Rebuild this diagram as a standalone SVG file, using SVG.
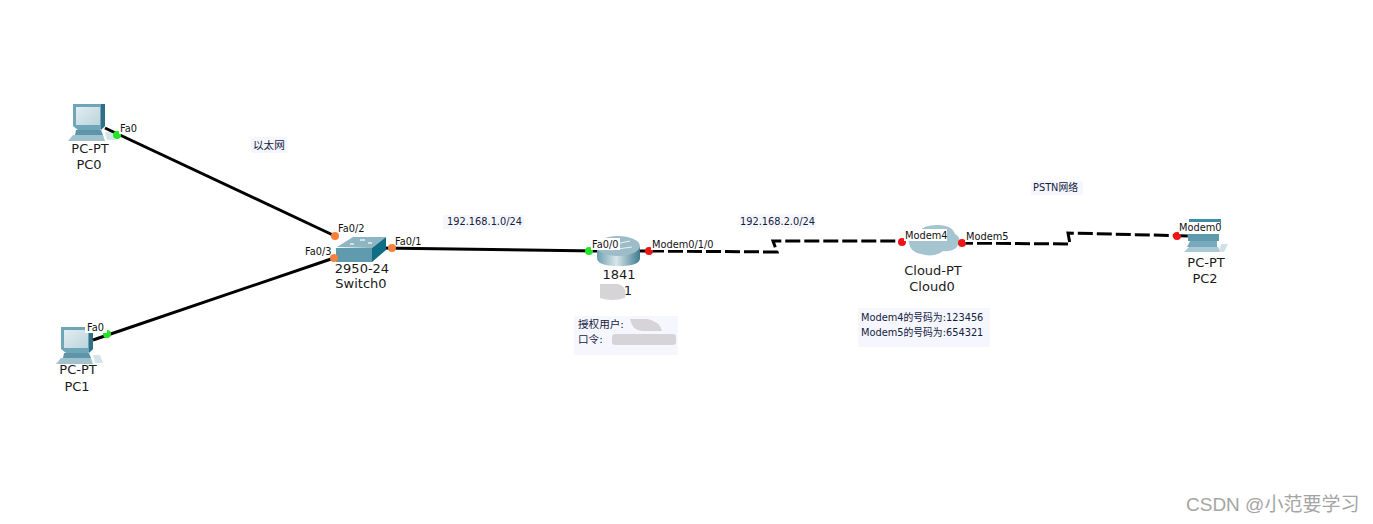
<svg xmlns="http://www.w3.org/2000/svg" width="1373" height="524" viewBox="0 0 1373 524">
<style>
text{font-family:"DejaVu Sans","Noto Sans CJK SC",sans-serif;fill:#1a1a1a}
.n{font-size:13px;text-anchor:middle}
.p{font-size:9.8px;fill:#111}
.a{font-size:9.8px;fill:#14213d}
.c{fill:none;stroke:#000;stroke-width:3}
.d{stroke-dasharray:15 4}
.g{fill:#25e325}.r{fill:#f01515}.o{fill:#f5813c}
.bg{fill:#f6f7fe}.w{fill:#fff}
.bl{fill:#d6d4d7}
</style>
<defs>
<linearGradient id="scr" x1="0" y1="0" x2="1" y2="1"><stop offset="0" stop-color="#e2edf1"/><stop offset="1" stop-color="#bcd4dc"/></linearGradient>
<linearGradient id="rt" x1="0" y1="0" x2="1" y2="0"><stop offset="0" stop-color="#6c9fb0"/><stop offset=".45" stop-color="#d7e6ea"/><stop offset="1" stop-color="#3f7b8e"/></linearGradient>
<g id="pc">
<path d="M0 0H32V22L27 26H5L0 22Z" fill="#6ea5b7"/>
<rect x="3" y="3" width="24" height="18" fill="url(#scr)"/>
<path d="M28 0H32V22L28 26Z" fill="#2f7084"/>
<path d="M3 26H28L30 31H2Z" fill="#5f95a8"/>
<path d="M-5 37L0 31H30L32 37Z" fill="#9fc2ce"/>
<path d="M32 28H39L42 36H34Z" fill="#d5e4e9"/>
</g>
</defs>
<rect width="1373" height="524" fill="#fff"/>
<g id="PC0"><use href="#pc" x="73" y="104"/><text class="n" x="90" y="153">PC-PT</text><text class="n" x="89" y="169">PC0</text></g>
<g id="PC1"><use href="#pc" x="61" y="327"/><text class="n" x="78" y="374">PC-PT</text><text class="n" x="77" y="391">PC1</text></g>
<g id="PC2"><path d="M1189 219H1221V224H1189Z" fill="#3f8ea5"/><path d="M1188 224H1219V241H1188Z" fill="#5f9aae"/><path d="M1191 227H1217V231H1191Z" fill="#3f7b8e"/><path d="M1190 241H1217V247H1187Z" fill="#79aabb"/><path d="M1184 252L1189 247H1218L1221 252Z" fill="#a9c9d4"/><path d="M1221 244H1228L1224 252H1219Z" fill="#cfe0e6"/><text class="n" x="1206" y="267">PC-PT</text><text class="n" x="1205" y="283">PC2</text></g>
<g id="connectors">
<path class="c" d="M105 128L335 236"/>
<path class="c" d="M93 340L334 258"/>
<path class="c" d="M380 248L597 251"/>
<path class="c" d="M640 251H649"/>
<path class="c d" d="M649 251L777 252L773 241L902 241"/>
<path class="c d" d="M958 243L1070 244L1068 233L1190 236"/>
</g>
<g id="annotations">
<rect class="bg" x="251" y="137" width="36" height="16"/><text class="a" x="253" y="149" style="font-size:10.6px">以太网</text>
<rect class="bg" x="443" y="215" width="81" height="14"/><text class="a" x="447" y="225">192.168.1.0/24</text>
<rect class="bg" x="740" y="214" width="76" height="14"/><text class="a" x="740" y="225">192.168.2.0/24</text>
<rect class="bg" x="1031" y="181" width="52" height="14"/><text class="a" x="1033" y="191">PSTN网络</text>
<rect class="bg" x="574" y="316" width="104" height="39"/>
<text class="a" x="578" y="328" style="font-size:10.6px">授权用户:</text><text class="a" x="578" y="343" style="font-size:10.6px">口令:</text>
<path class="bl" d="M630 319H648Q660 322 662 331H642Q632 330 630 319Z"/>
<rect class="bl" x="612" y="334" width="64" height="11" rx="3"/>
<rect class="bg" x="858" y="308" width="132" height="39"/>
<text class="a" x="861" y="321">Modem4的号码为:123456</text><text class="a" x="861" y="336">Modem5的号码为:654321</text>
</g>
<g id="Switch0"><path d="M337 247L353 237H386L372 248Z" fill="#8db5c2"/><path d="M336 248H372V262H336Z" fill="#5f9aae"/><path d="M372 248L386 237V250L372 262Z" fill="#0f6d85"/><path d="M350 244h4M360 240h5M368 243h4" stroke="#e8f0f2" stroke-width="1.5"/><text class="n" x="362" y="273">2950-24</text><text class="n" x="361" y="288">Switch0</text></g>
<g id="Router1"><path d="M597 247V258Q597 266 619 266Q640 266 640 258V247Z" fill="url(#rt)"/><ellipse cx="618" cy="246" rx="22" ry="10" fill="#9cbcc8"/><path d="M606 246L630 241M610 250L632 247" stroke="#e8f0f2" stroke-width="1.2"/><text class="n" x="619" y="279">1841</text><text class="n" x="628" y="295">1</text><path class="bl" d="M600 284H618Q628 287 625 298Q612 302 600 298Z"/></g>
<g id="Cloud0"><path d="M909 243Q905 232 919 231Q925 224 940 225Q953 226 955 234Q962 238 958 245Q955 252 943 251Q934 258 921 254Q910 252 909 243Z" fill="#a4c4d0"/><text class="n" x="933" y="275">Cloud-PT</text><text class="n" x="932" y="291">Cloud0</text></g>
<g id="ports">
<circle class="g" cx="117" cy="135" r="4"/><circle class="g" cx="107" cy="334" r="4"/><circle class="o" cx="335" cy="236" r="4"/><circle class="o" cx="334" cy="258" r="4"/><circle class="o" cx="392" cy="248" r="4"/><circle class="g" cx="589" cy="251" r="4"/><circle class="r" cx="649" cy="251" r="4"/><circle class="r" cx="902" cy="242" r="4"/><circle class="r" cx="962" cy="243" r="4"/><circle class="r" cx="1177" cy="236" r="4"/>
<rect class="w" x="119" y="122" width="20" height="12"/><text class="p" x="120" y="132">Fa0</text>
<rect class="w" x="85" y="321" width="22" height="12"/><text class="p" x="87" y="331">Fa0</text>
<text class="p" x="338" y="232">Fa0/2</text><text class="p" x="305" y="255">Fa0/3</text><text class="p" x="395" y="245">Fa0/1</text>
<rect class="w" x="591" y="238" width="29" height="12"/><text class="p" x="592" y="248">Fa0/0</text>
<rect class="w" x="651" y="238" width="62" height="12"/><text class="p" x="652" y="248">Modem0/1/0</text>
<rect class="w" x="904" y="229" width="43" height="12"/><text class="p" x="905" y="239">Modem4</text>
<rect class="w" x="965" y="230" width="41" height="12"/><text class="p" x="966" y="240">Modem5</text>
<rect class="w" x="1179" y="222" width="41" height="12"/><text class="p" x="1179" y="231">Modem0</text>
</g>
<text x="1186" y="511" style="font-family:'Liberation Sans','Noto Sans CJK SC',sans-serif;font-size:19px;fill:#a5a5a5">CSDN @小范要学习</text>
</svg>
